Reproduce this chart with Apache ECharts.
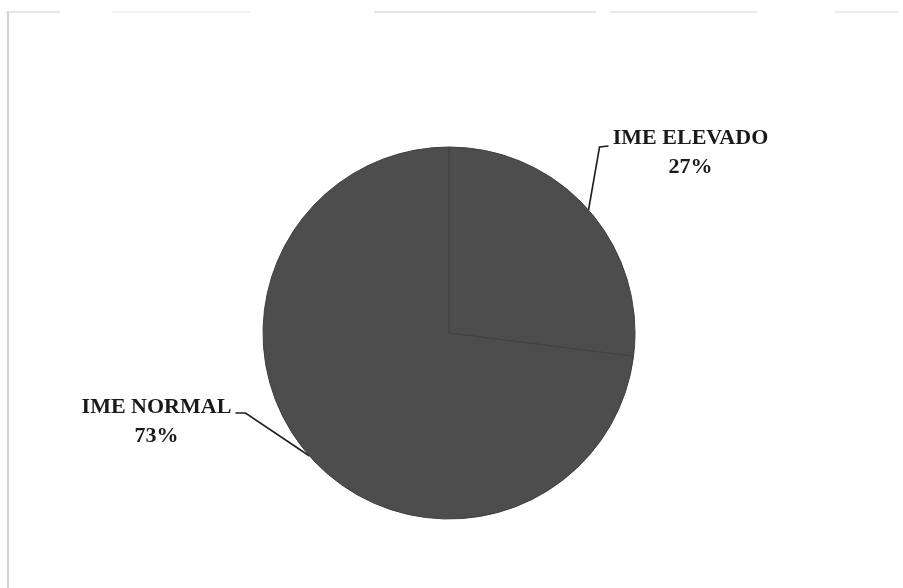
<!DOCTYPE html>
<html>
<head>
<meta charset="utf-8">
<script src="https://cdn.jsdelivr.net/npm/echarts@6/dist/echarts.min.js"></script>
<style>
  html, body { margin: 0; padding: 0; background: #ffffff; }
  #chart { width: 903px; height: 588px; }
</style>
</head>
<body>
<div id="chart"></div>
<script>
// Categories and shares (percent)
const categories = ['IME ELEVADO', 'IME NORMAL'];
const shares = [27, 73];

// Frame lines around the plot area (light grey, partly broken along the top)
const topSegments = [[6, 60, '#cfcfcf'], [112, 250, '#e3e3e3'], [374, 596, '#c9c9c9'], [610, 757, '#d6d6d6'], [835, 899, '#dcdcdc']];

const chart = echarts.init(document.getElementById('chart'), null, { renderer: 'canvas' });

const frame = [
  { type: 'line', shape: { x1: 8, y1: 12, x2: 8, y2: 588 }, style: { stroke: '#c4c4c4', lineWidth: 1.5 }, silent: true }
].concat(topSegments.map(s => ({
  type: 'line', shape: { x1: s[0], y1: 12, x2: s[1], y2: 12 }, style: { stroke: s[2], lineWidth: 1.2 }, silent: true
})));

// Label placement: label centre and leader-line bends, relative to the slice edge point
const labelPlacement = [
  { dx: 102, dy: -57, bend: [[11, -63], [20, -64]] },
  { dx: -153, dy: -34, bend: [[-64, -43], [-74, -43]] }
];

chart.setOption({
  backgroundColor: '#ffffff',
  animation: false,
  graphic: frame,
  series: [{
    type: 'pie',
    center: [449, 333],
    radius: [0, 186],
    startAngle: 90,
    clockwise: true,
    silent: true,
    itemStyle: {
      color: '#4d4d4d',
      borderColor: '#404040',
      borderWidth: 1
    },
    label: {
      show: true,
      position: 'outside',
      formatter: p => p.name + '\n' + p.value + '%',
      fontFamily: '"Liberation Serif", "DejaVu Serif", serif',
      fontWeight: 'bold',
      fontSize: 22,
      lineHeight: 29,
      color: '#1a1a1a',
      align: 'center'
    },
    labelLine: {
      show: true,
      length: 20,
      length2: 10,
      lineStyle: { color: '#1e1e1e', width: 1.6 }
    },
    labelLayout: function (params) {
      const pl = labelPlacement[params.dataIndex];
      const start = params.labelLinePoints[0];
      return {
        x: start[0] + pl.dx,
        y: start[1] + pl.dy,
        align: 'center',
        verticalAlign: 'middle',
        labelLinePoints: [
          start,
          [start[0] + pl.bend[0][0], start[1] + pl.bend[0][1]],
          [start[0] + pl.bend[1][0], start[1] + pl.bend[1][1]]
        ]
      };
    },
    data: categories.map((c, i) => ({ name: c, value: shares[i] }))
  }]
});
</script>
</body>
</html>
